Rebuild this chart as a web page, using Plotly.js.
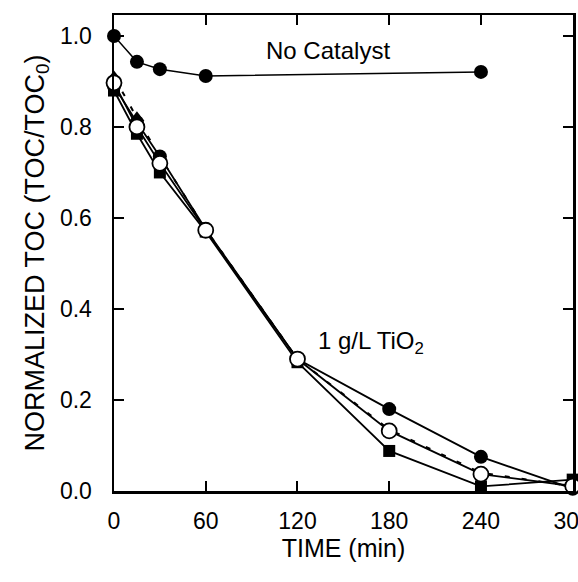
<!DOCTYPE html>
<html>
<head>
<meta charset="utf-8">
<script src="https://cdn.plot.ly/plotly-3.0.1.min.js"></script>
<style>html,body{margin:0;padding:0;background:#fff;}#chart{width:578px;height:582px;}</style>
</head>
<body>
<div id="chart"></div>
<script>
var noCatTime = [0, 15, 30, 60, 240];
var noCatalyst = [1.0, 0.943, 0.927, 0.912, 0.921];
var time = [0, 15, 30, 60, 120, 180, 240, 300];
var tio2FilledCircle = [0.89, 0.81, 0.735, 0.575, 0.29, 0.18, 0.075, 0.005];
var tio2Triangle = [0.91, 0.82, 0.735, 0.575, 0.29, 0.135, 0.04, 0.01];
var tio2Square = [0.88, 0.785, 0.70, 0.57, 0.283, 0.088, 0.01, 0.025];
var tio2OpenCircle = [0.897, 0.80, 0.72, 0.573, 0.29, 0.132, 0.037, 0.011];
var xTicks = [0, 60, 120, 180, 240, 300];
var yTicks = [0.0, 0.2, 0.4, 0.6, 0.8, 1.0];

var F = 'Liberation Sans, Arial, sans-serif';
var traces = [
  {x: time, y: tio2Triangle, mode: 'lines+markers', cliponaxis: false,
   line: {color: 'black', width: 2, dash: '5px,12px'},
   marker: {symbol: 'triangle-up', size: 13, color: 'black'}},
  {x: time, y: tio2FilledCircle, mode: 'lines+markers', cliponaxis: false,
   line: {color: 'black', width: 1.8},
   marker: {symbol: 'circle', size: 14, color: 'black'}},
  {x: time, y: tio2Square, mode: 'lines+markers', cliponaxis: false,
   line: {color: 'black', width: 1.8},
   marker: {symbol: 'square', size: 12, color: 'black'}},
  {x: time, y: tio2OpenCircle, mode: 'lines+markers', cliponaxis: false,
   line: {color: 'black', width: 1.8},
   marker: {symbol: 'circle', size: 15, color: 'white', line: {color: 'black', width: 1.8}}},
  {x: noCatTime, y: noCatalyst, mode: 'lines+markers', cliponaxis: false,
   line: {color: 'black', width: 1.5},
   marker: {symbol: 'circle', size: 14, color: 'black'}}
];

var layout = {
  width: 578, height: 582,
  margin: {l: 114, r: 5, t: 15, b: 91},
  showlegend: false,
  paper_bgcolor: 'white', plot_bgcolor: 'white',
  font: {family: F, color: 'black', size: 23},
  xaxis: {
    range: [0, 300.2], tickvals: xTicks, ticktext: xTicks.map(String),
    ticks: 'inside', ticklen: 10, tickwidth: 2, tickcolor: 'black',
    showline: true, linewidth: 2.5, linecolor: 'black', mirror: 'ticks',
    showgrid: false, zeroline: false, ticklabelstandoff: 8, ticklabeloverflow: 'allow',
    tickfont: {size: 23, family: F},
    title: {text: 'TIME (min)', font: {size: 25, family: F}, standoff: 5}
  },
  yaxis: {
    range: [0, 1.046], tickvals: yTicks, ticktext: yTicks.map(function(v){return v.toFixed(1);}),
    ticks: 'inside', ticklen: 10, tickwidth: 2, tickcolor: 'black',
    showline: true, linewidth: 2.5, linecolor: 'black', mirror: 'ticks',
    showgrid: false, zeroline: false, ticklabelstandoff: 15,
    tickfont: {size: 23, family: F},
    title: {text: 'NORMALIZED TOC (TOC/TOC<sub>0</sub>)', font: {size: 27, family: F}, standoff: 8}
  },
  annotations: [
    {x: 98, y: 0.969, xref: 'x', yref: 'y', xanchor: 'left', yanchor: 'middle',
     text: 'No Catalyst', showarrow: false, font: {size: 24, family: F}},
    {x: 132, y: 0.327, xref: 'x', yref: 'y', xanchor: 'left', yanchor: 'middle',
     text: '1 g/L TiO<sub>2</sub>', showarrow: false, font: {size: 24, family: F}}
  ]
};
Plotly.newPlot('chart', traces, layout, {displayModeBar: false, staticPlot: true});
</script>
</body>
</html>
